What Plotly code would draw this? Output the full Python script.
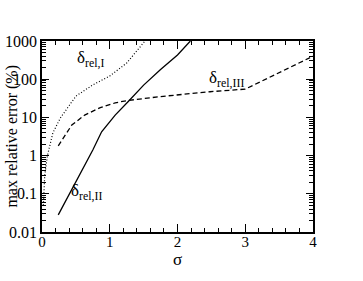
import math
import plotly.graph_objects as go

# sigma values and max relative errors (%)
sig_I = [0.02, 0.04, 0.08, 0.16, 0.27, 0.5, 0.75, 1.0, 1.25, 1.52]
err_I = [0.05, 0.3, 1.0, 3.9, 9.6, 36, 71, 121, 265, 1000]

sig_II = [0.24, 0.5, 0.75, 0.88, 1.08, 1.27, 1.5, 1.75, 2.0, 2.19]
err_II = [0.028, 0.2, 1.4, 4.2, 11.5, 25.6, 70, 180, 430, 1000]

sig_III = [0.24, 0.44, 0.63, 0.86, 1.08, 1.25, 1.74, 2.48, 3.0, 4.0]
err_III = [1.8, 6.3, 11.5, 18, 24, 27.5, 35, 47, 55, 400]

labels = ["δ<sub>rel,I</sub>", "δ<sub>rel,II</sub>", "δ<sub>rel,III</sub>"]
label_x = [0.72, 0.66, 2.72]
label_y = [330, 0.11, 100]

FONT = "Liberation Serif, Times New Roman, serif"

fig = go.Figure()
fig.add_trace(go.Scatter(x=sig_I, y=err_I, mode="lines",
                         line=dict(color="black", width=1.2, dash="1px,2px")))
fig.add_trace(go.Scatter(x=sig_II, y=err_II, mode="lines",
                         line=dict(color="black", width=1.3)))
fig.add_trace(go.Scatter(x=sig_III, y=err_III, mode="lines",
                         line=dict(color="black", width=1.3, dash="5px,3px")))

# annotation y on a log axis is given in log10 units
for t, x, y in zip(labels, label_x, label_y):
    fig.add_annotation(x=x, y=math.log10(y), text=t, showarrow=False,
                       font=dict(family=FONT, size=17, color="black"))

# axis titles as annotations so they sit where the original has them
fig.add_annotation(xref="paper", yref="paper", x=-0.114, y=0.5,
                   xanchor="center", yanchor="middle", textangle=-90,
                   text="max relative error (%)", showarrow=False,
                   font=dict(family=FONT, size=16, color="black"))
fig.add_annotation(xref="paper", yref="paper", x=0.5, y=-0.142,
                   xanchor="center", yanchor="middle",
                   text="σ", showarrow=False,
                   font=dict(family=FONT, size=17, color="black"))

axis_common = dict(showline=True, linecolor="black", linewidth=1.5,
                   mirror="allticks", ticks="inside", tickcolor="black",
                   tickwidth=1, showgrid=False, zeroline=False,
                   automargin=False)

fig.update_xaxes(range=[0, 4], dtick=1, ticklen=8, ticklabelstandoff=-5,
                 tickfont=dict(family=FONT, size=15, color="black"),
                 minor=dict(dtick=0.2, ticks="inside", ticklen=4,
                            tickcolor="black", showgrid=False),
                 **axis_common)
fig.update_yaxes(type="log", range=[-2, 3], dtick=1, ticklen=7,
                 exponentformat="none",
                 tickfont=dict(family=FONT, size=16, color="black"),
                 minor=dict(dtick="D1", ticks="inside", ticklen=4,
                            tickcolor="black", showgrid=False),
                 **axis_common)

fig.update_layout(width=363, height=281, showlegend=False,
                  plot_bgcolor="white", paper_bgcolor="white",
                  margin=dict(l=42, r=50, t=41, b=49))

# drop the page's default body margin so the figure starts at the corner
fig.write_html("out.html", config={"displayModeBar": False},
               post_script="document.body.style.margin='0px';")
